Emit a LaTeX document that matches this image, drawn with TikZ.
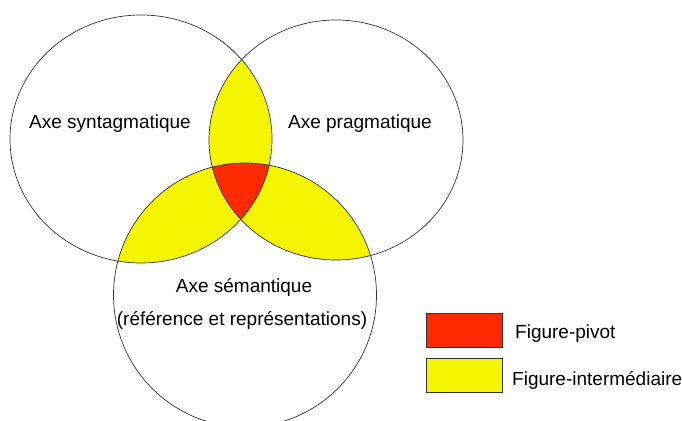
\documentclass[tikz,border=0pt]{standalone}
\usepackage{fontspec}
\setmainfont{Liberation Sans}
\usepackage{tikz}
\usetikzlibrary{positioning}

\definecolor{pivot}{RGB}{255,42,0}
\definecolor{inter}{RGB}{245,245,0}

\newcommand*{\synt}{(141,139) ellipse [x radius=131, y radius=124]}
\newcommand*{\prag}{(336,140) ellipse [x radius=127, y radius=120]}
\newcommand*{\sema}{(245,295) ellipse [x radius=131.5, y radius=132]}

\begin{document}
\begin{tikzpicture}[x=1pt, y=-1pt,
 every node/.style={font=\fontsize{19}{23}\selectfont},
 lbl/.style={inner sep=0pt, anchor=base},
 key/.style={rectangle, inner sep=0pt, minimum width=76pt, minimum height=34pt, draw=black!80, line width=0.8pt},
 axe/.style={draw=black!80, line width=0.7pt}]

\useasboundingbox (0,0) rectangle (682,420);

% yellow: two axes overlap
\begin{scope}
\clip \synt;
\fill[inter] \prag;
\fill[inter] \sema;
\end{scope}
\begin{scope}
\clip \prag;
\fill[inter] \sema;
\end{scope}
% red: all three
\begin{scope}
\clip \synt;
\clip \prag;
\fill[pivot] \sema;
\end{scope}

\draw[axe] \synt;
\draw[axe] \prag;
\draw[axe] \sema;

\node[lbl] (synt) at (110,128) {Axe syntagmatique};
\node[lbl] (prag) at (360,128) {Axe pragmatique};
\node[lbl] (sema) at (244,292) {Axe sémantique};
\node[lbl] (ref) at (242,325) {(référence et représentations)};

% legend
\node[key, fill=pivot] (kpivot) at (464,330) {};
\node[key, fill=inter, below=11pt of kpivot] (kinter) {};
\node[lbl, anchor=base west] (tpivot) at (515,338) {Figure-pivot};
\node[lbl, anchor=base west] (tinter) at (512,385) {Figure-intermédiaire};

\end{tikzpicture}
\end{document}
